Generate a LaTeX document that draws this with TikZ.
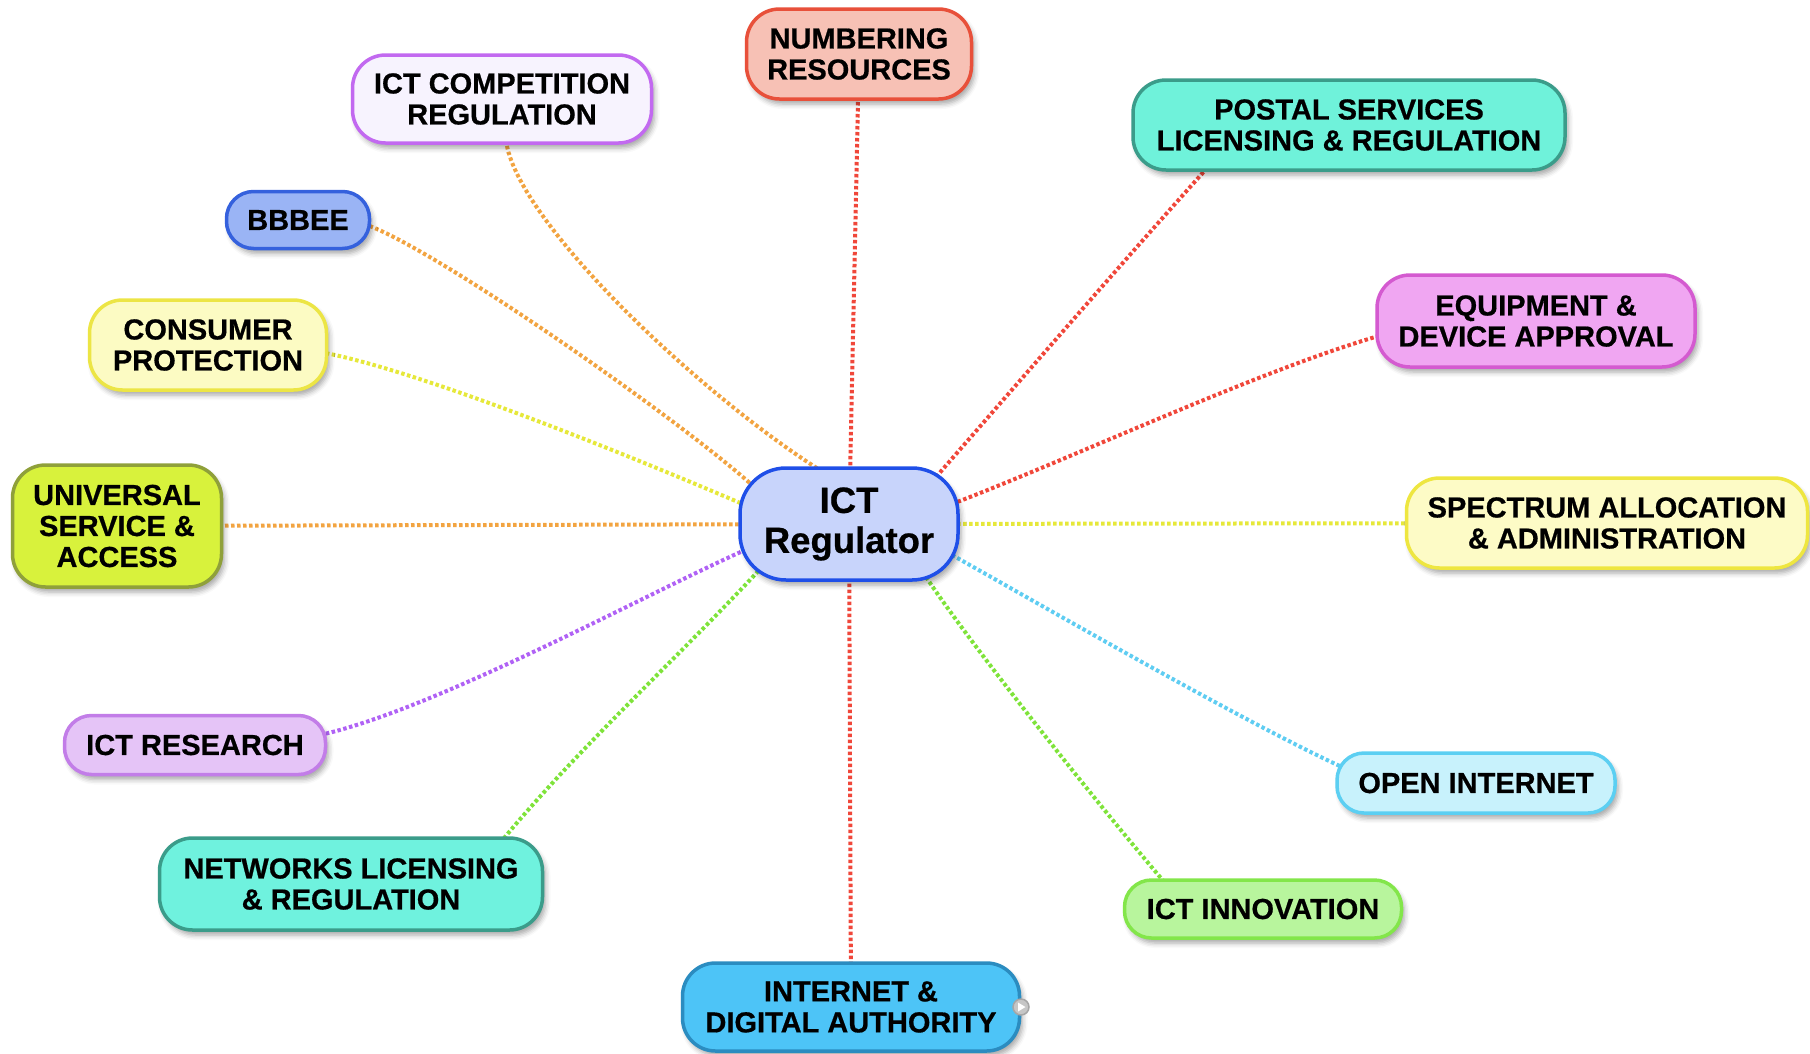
\documentclass[tikz,border=0pt]{standalone}
\usepackage{fontspec}
\setmainfont{Liberation Sans}
\newfontfamily\heavyfont{Liberation Sans}[BoldFeatures={FakeBold=0.6}]
\usetikzlibrary{shadows.blur}
\pgfdeclarelayer{background}
\pgfsetlayers{background,main}
% node colours
\definecolor{regF}{HTML}{C8D4FB}\definecolor{regD}{HTML}{1F4FE8}
\definecolor{numF}{HTML}{F7C1B5}\definecolor{numD}{HTML}{E8503A}
\definecolor{comF}{HTML}{F7F3FE}\definecolor{comD}{HTML}{C269F0}
\definecolor{bbbF}{HTML}{9AB4F5}\definecolor{bbbD}{HTML}{3561DD}
\definecolor{conF}{HTML}{FCFBC3}\definecolor{conD}{HTML}{ECE545}
\definecolor{uniF}{HTML}{D8F23C}\definecolor{uniD}{HTML}{8FA03A}
\definecolor{resF}{HTML}{E5C4F7}\definecolor{resD}{HTML}{C27DE8}
\definecolor{netF}{HTML}{6FF2DE}\definecolor{netD}{HTML}{3B9C8A}
\definecolor{intF}{HTML}{4DC4F7}\definecolor{intD}{HTML}{2B8CC0}
\definecolor{innF}{HTML}{B8F59D}\definecolor{innD}{HTML}{83E64A}
\definecolor{opnF}{HTML}{C8F2FC}\definecolor{opnD}{HTML}{5CCFF2}
\definecolor{speF}{HTML}{FDFBC6}\definecolor{speD}{HTML}{EEE640}
\definecolor{equF}{HTML}{F0A6F2}\definecolor{equD}{HTML}{D45AD0}
\definecolor{posF}{HTML}{6FF2DA}\definecolor{posD}{HTML}{3B9C8A}
% connector colours
\definecolor{cRed}{HTML}{F0473A}
\definecolor{cOrange}{HTML}{F2A441}
\definecolor{cYellow}{HTML}{E6E83A}
\definecolor{cPurple}{HTML}{B062F5}
\definecolor{cGreen}{HTML}{7FE33A}
\definecolor{cCyan}{HTML}{5FCDF2}
\tikzset{
  box/.style={draw, rounded corners=33pt, line width=3.5pt, align=center,
    inner sep=0pt, text=black,
    font=\heavyfont\bfseries\fontsize{29}{31}\selectfont,
    blur shadow={shadow xshift=3pt, shadow yshift=-5pt, shadow blur radius=5pt, shadow opacity=35}},
  onebox/.style={box, rounded corners=27pt},
  conn/.style={line width=4pt, dash pattern=on 3.5pt off 2.5pt, draw=#1},
}
\begin{document}
\begin{tikzpicture}[x=1pt, y=-1pt]
\useasboundingbox (0,0) rectangle (1810,1053);
% central node
\node[box, rounded corners=46pt, fill=regF, draw=regD, minimum width=218pt, minimum height=112pt,
  font=\heavyfont\bfseries\fontsize{36.5}{40}\selectfont] (reg) at (849,524) {ICT\\Regulator};
% satellites
\node[box, fill=numF, draw=numD, minimum width=225pt, minimum height=90pt] (num) at (859,54) {NUMBERING\\RESOURCES};
\node[box, fill=comF, draw=comD, minimum width=299pt, minimum height=88pt] (com) at (502,99) {ICT COMPETITION\\REGULATION};
\node[onebox, fill=bbbF, draw=bbbD, minimum width=143pt, minimum height=57pt] (bbb) at (298,220) {BBBEE};
\node[box, fill=conF, draw=conD, minimum width=237pt, minimum height=90pt] (con) at (208,345) {CONSUMER\\PROTECTION};
\node[box, fill=uniF, draw=uniD, minimum width=209pt, minimum height=122pt] (uni) at (117,526) {UNIVERSAL\\SERVICE \&\\ACCESS};
\node[onebox, fill=resF, draw=resD, minimum width=261pt, minimum height=59pt] (res) at (195,745) {ICT RESEARCH};
\node[box, fill=netF, draw=netD, minimum width=383pt, minimum height=92pt] (net) at (351,884) {NETWORKS LICENSING\\\& REGULATION};
\node[box, fill=intF, draw=intD, minimum width=337pt, minimum height=88pt] (int) at (851,1007) {INTERNET \&\\DIGITAL AUTHORITY};
\node[onebox, fill=innF, draw=innD, minimum width=277pt, minimum height=58pt] (inn) at (1263,909) {ICT INNOVATION};
\node[onebox, fill=opnF, draw=opnD, minimum width=278pt, minimum height=60pt] (opn) at (1476,783) {OPEN INTERNET};
\node[box, fill=speF, draw=speD, minimum width=401pt, minimum height=90pt] (spe) at (1607,523) {SPECTRUM ALLOCATION\\\& ADMINISTRATION};
\node[box, fill=equF, draw=equD, minimum width=318pt, minimum height=92pt] (equ) at (1536,321) {EQUIPMENT \&\\DEVICE APPROVAL};
\node[box, fill=posF, draw=posD, minimum width=432pt, minimum height=90pt] (pos) at (1349,125) {POSTAL SERVICES\\LICENSING \& REGULATION};
% expand toggle on the internet node
\node[circle, draw=gray!70, fill=gray!45, line width=1.5pt, minimum size=16pt, inner sep=0pt] (tog) at (1021,1007) {};
\fill[white] ([shift={(-3,-4.5)}]tog.center) -- ++(7.5,4.5) -- ++(-7.5,4.5) -- cycle;
% connectors (behind the nodes)
\begin{pgfonlayer}{background}
\draw[conn=cRed] (num.center) -- (reg.center);
\draw[conn=cOrange] ([shift={(4,41)}]com.center) .. controls (515,220) and (700,395) .. ([shift={(-26,-52)}]reg.center);
\draw[conn=cOrange] ([shift={(66,4)}]bbb.center) .. controls (430,245) and (680,420) .. ([shift={(-97,-39)}]reg.center);
\draw[conn=cYellow] ([shift={(112,7)}]con.center) .. controls (420,370) and (640,460) .. ([shift={(-104,-19)}]reg.center);
\draw[conn=cOrange] (uni.center) -- (reg.center);
\draw[conn=cPurple] ([shift={(125,-10)}]res.center) .. controls (436,709) and (640,597) .. ([shift={(-104,26)}]reg.center);
\draw[conn=cGreen] ([shift={(149,-41)}]net.center) .. controls (578,748) and (678,658) .. ([shift={(-87,43)}]reg.center);
\draw[conn=cRed] (int.center) -- (reg.center);
\draw[conn=cGreen] ([shift={(77,53)}]reg.center) .. controls (976,652) and (1106,814) .. ([shift={(-97,-25)}]inn.center);
\draw[conn=cCyan] ([shift={(103,31)}]reg.center) .. controls (1050,610) and (1240,720) .. ([shift={(-132,-15)}]opn.center);
\draw[conn=cYellow] (reg.center) -- (spe.center);
\draw[conn=cRed] ([shift={(103,-20)}]reg.center) .. controls (1080,455) and (1260,370) .. ([shift={(-154,14)}]equ.center);
\draw[conn=cRed] ([shift={(87,-47)}]reg.center) .. controls (1025,375) and (1120,265) .. ([shift={(-141,42)}]pos.center);
\end{pgfonlayer}
\end{tikzpicture}
\end{document}
